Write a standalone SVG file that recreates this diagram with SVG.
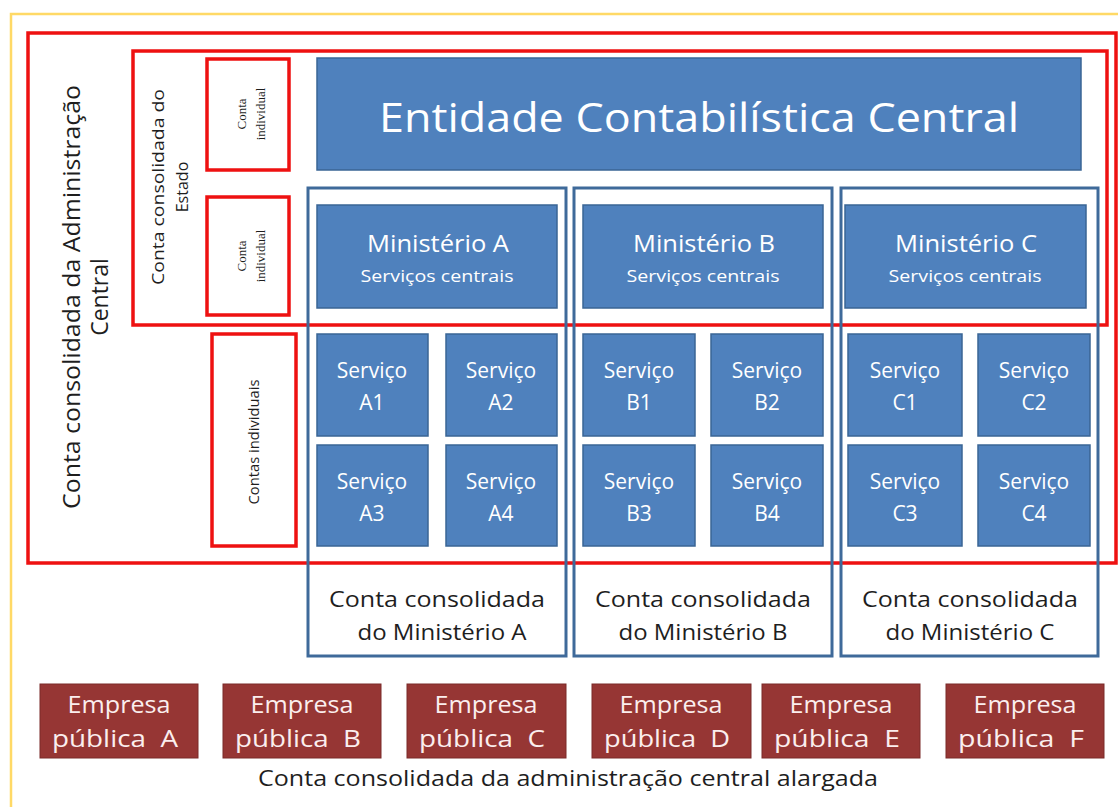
<svg xmlns="http://www.w3.org/2000/svg" width="1118" height="807" viewBox="0 0 1118 807">
<style>
.red{fill:none;stroke:#ee1111;stroke-width:3.5}
.cont{fill:none;stroke:#3f6a9a;stroke-width:3}
.blue{fill:#4f81bd;stroke:#3a6595;stroke-width:1.5}
.emp{fill:#963634;stroke:#7a2a28;stroke-width:1}
text{font-family:"Open Sans","Noto Sans","Liberation Sans",sans-serif;text-anchor:middle}
.w{fill:#ffffff}
.we{fill:#fbeeee}
.k{fill:#1e1e1e}
.svc{font-size:21px}
.lab{font-size:21px}
.emp-t{font-size:23px}
.ind{font-family:"Liberation Serif","DejaVu Serif",serif;font-size:13px}
</style>
<rect width="1118" height="807" fill="#ffffff"/>
<rect x="11" y="14" width="1120" height="800" fill="none" stroke="#ffd966" stroke-width="2.5"/>

<g id="adm-central">
<rect class="red" x="28" y="33" width="1088" height="530"/>
<text class="k" font-size="23" transform="translate(80,297) rotate(-90)" textLength="424" lengthAdjust="spacingAndGlyphs">Conta consolidada da Administração</text>
<text class="k" font-size="23" transform="translate(108,297) rotate(-90)">Central</text>
</g>

<g id="estado">
<rect class="red" x="133" y="51" width="974" height="274"/>
<text class="k" font-size="16" transform="translate(164,187) rotate(-90)" textLength="196" lengthAdjust="spacingAndGlyphs">Conta consolidada do</text>
<text class="k" font-size="16" transform="translate(188,187) rotate(-90)">Estado</text>
</g>

<g id="conta-individual-1">
<rect class="red" x="207" y="59" width="82" height="111"/>
<text class="k ind" transform="translate(246,114) rotate(-90)">Conta</text>
<text class="k ind" transform="translate(265,114) rotate(-90)">individual</text>
</g>
<g id="conta-individual-2">
<rect class="red" x="207" y="197" width="82" height="118"/>
<text class="k ind" transform="translate(246,256) rotate(-90)">Conta</text>
<text class="k ind" transform="translate(265,256) rotate(-90)">individual</text>
</g>
<g id="contas-individuais">
<rect class="red" x="212" y="334" width="84" height="212"/>
<text class="k" font-size="14" transform="translate(259,442) rotate(-90)" textLength="125" lengthAdjust="spacingAndGlyphs">Contas individuais</text>
</g>

<g id="entidade">
<rect class="blue" x="317" y="58" width="764" height="112"/>
<text class="w" x="699" y="132" font-size="40" textLength="640" lengthAdjust="spacingAndGlyphs">Entidade Contabilística Central</text>
</g>

<g id="ministerio-A-conta">
<rect class="cont" x="308" y="188" width="258" height="468"/>
<text class="k lab" x="437" y="607" textLength="216" lengthAdjust="spacingAndGlyphs">Conta consolidada</text>
<text class="k lab" x="442" y="640" textLength="169" lengthAdjust="spacingAndGlyphs">do Ministério A</text>
</g>
<g id="ministerio-B-conta">
<rect class="cont" x="574" y="188" width="258" height="468"/>
<text class="k lab" x="703" y="607" textLength="216" lengthAdjust="spacingAndGlyphs">Conta consolidada</text>
<text class="k lab" x="703" y="640" textLength="169" lengthAdjust="spacingAndGlyphs">do Ministério B</text>
</g>
<g id="ministerio-C-conta">
<rect class="cont" x="841" y="188" width="257" height="468"/>
<text class="k lab" x="970" y="607" textLength="216" lengthAdjust="spacingAndGlyphs">Conta consolidada</text>
<text class="k lab" x="970" y="640" textLength="169" lengthAdjust="spacingAndGlyphs">do Ministério C</text>
</g>

<g id="ministerio-A">
<rect class="blue" x="317" y="205" width="240" height="103"/>
<text class="w" x="438" y="252" font-size="23" textLength="142" lengthAdjust="spacingAndGlyphs">Ministério A</text>
<text class="w" x="437" y="282" font-size="17" textLength="153" lengthAdjust="spacingAndGlyphs">Serviços centrais</text>
</g>
<g id="ministerio-B">
<rect class="blue" x="583" y="205" width="240" height="103"/>
<text class="w" x="704" y="252" font-size="23" textLength="142" lengthAdjust="spacingAndGlyphs">Ministério B</text>
<text class="w" x="703" y="282" font-size="17" textLength="153" lengthAdjust="spacingAndGlyphs">Serviços centrais</text>
</g>
<g id="ministerio-C">
<rect class="blue" x="845" y="205" width="241" height="103"/>
<text class="w" x="966" y="252" font-size="23" textLength="142" lengthAdjust="spacingAndGlyphs">Ministério C</text>
<text class="w" x="965" y="282" font-size="17" textLength="153" lengthAdjust="spacingAndGlyphs">Serviços centrais</text>
</g>

<g id="servico-A1"><rect class="blue" x="317" y="334" width="111" height="102"/><text class="w svc" x="372" y="378">Serviço</text><text class="w svc" x="372" y="410">A1</text></g>
<g id="servico-A2"><rect class="blue" x="446" y="334" width="111" height="102"/><text class="w svc" x="501" y="378">Serviço</text><text class="w svc" x="501" y="410">A2</text></g>
<g id="servico-A3"><rect class="blue" x="317" y="445" width="111" height="101"/><text class="w svc" x="372" y="489">Serviço</text><text class="w svc" x="372" y="521">A3</text></g>
<g id="servico-A4"><rect class="blue" x="446" y="445" width="111" height="101"/><text class="w svc" x="501" y="489">Serviço</text><text class="w svc" x="501" y="521">A4</text></g>

<g id="servico-B1"><rect class="blue" x="583" y="334" width="112" height="102"/><text class="w svc" x="639" y="378">Serviço</text><text class="w svc" x="639" y="410">B1</text></g>
<g id="servico-B2"><rect class="blue" x="711" y="334" width="112" height="102"/><text class="w svc" x="767" y="378">Serviço</text><text class="w svc" x="767" y="410">B2</text></g>
<g id="servico-B3"><rect class="blue" x="583" y="445" width="112" height="101"/><text class="w svc" x="639" y="489">Serviço</text><text class="w svc" x="639" y="521">B3</text></g>
<g id="servico-B4"><rect class="blue" x="711" y="445" width="112" height="101"/><text class="w svc" x="767" y="489">Serviço</text><text class="w svc" x="767" y="521">B4</text></g>

<g id="servico-C1"><rect class="blue" x="848" y="334" width="114" height="102"/><text class="w svc" x="905" y="378">Serviço</text><text class="w svc" x="905" y="410">C1</text></g>
<g id="servico-C2"><rect class="blue" x="978" y="334" width="112" height="102"/><text class="w svc" x="1034" y="378">Serviço</text><text class="w svc" x="1034" y="410">C2</text></g>
<g id="servico-C3"><rect class="blue" x="848" y="445" width="114" height="101"/><text class="w svc" x="905" y="489">Serviço</text><text class="w svc" x="905" y="521">C3</text></g>
<g id="servico-C4"><rect class="blue" x="978" y="445" width="112" height="101"/><text class="w svc" x="1034" y="489">Serviço</text><text class="w svc" x="1034" y="521">C4</text></g>

<g id="empresa-A"><rect class="emp" x="40" y="684" width="158" height="74"/><text class="we emp-t" x="119" y="713" textLength="103" lengthAdjust="spacingAndGlyphs">Empresa</text><text class="we emp-t" x="115" y="747" xml:space="preserve" textLength="126" lengthAdjust="spacingAndGlyphs">pública  A</text></g>
<g id="empresa-B"><rect class="emp" x="223" y="684" width="158" height="74"/><text class="we emp-t" x="302" y="713" textLength="103" lengthAdjust="spacingAndGlyphs">Empresa</text><text class="we emp-t" x="298" y="747" xml:space="preserve" textLength="126" lengthAdjust="spacingAndGlyphs">pública  B</text></g>
<g id="empresa-C"><rect class="emp" x="407" y="684" width="159" height="74"/><text class="we emp-t" x="486" y="713" textLength="103" lengthAdjust="spacingAndGlyphs">Empresa</text><text class="we emp-t" x="482" y="747" xml:space="preserve" textLength="126" lengthAdjust="spacingAndGlyphs">pública  C</text></g>
<g id="empresa-D"><rect class="emp" x="592" y="684" width="159" height="74"/><text class="we emp-t" x="671" y="713" textLength="103" lengthAdjust="spacingAndGlyphs">Empresa</text><text class="we emp-t" x="667" y="747" xml:space="preserve" textLength="126" lengthAdjust="spacingAndGlyphs">pública  D</text></g>
<g id="empresa-E"><rect class="emp" x="762" y="684" width="158" height="74"/><text class="we emp-t" x="841" y="713" textLength="103" lengthAdjust="spacingAndGlyphs">Empresa</text><text class="we emp-t" x="837" y="747" xml:space="preserve" textLength="126" lengthAdjust="spacingAndGlyphs">pública  E</text></g>
<g id="empresa-F"><rect class="emp" x="946" y="684" width="158" height="74"/><text class="we emp-t" x="1025" y="713" textLength="103" lengthAdjust="spacingAndGlyphs">Empresa</text><text class="we emp-t" x="1021" y="747" xml:space="preserve" textLength="126" lengthAdjust="spacingAndGlyphs">pública  F</text></g>

<g id="alargada">
<text class="k lab" x="568" y="786" textLength="620" lengthAdjust="spacingAndGlyphs">Conta consolidada da administração central alargada</text>
</g>
<g id="connectors"></g>
</svg>
